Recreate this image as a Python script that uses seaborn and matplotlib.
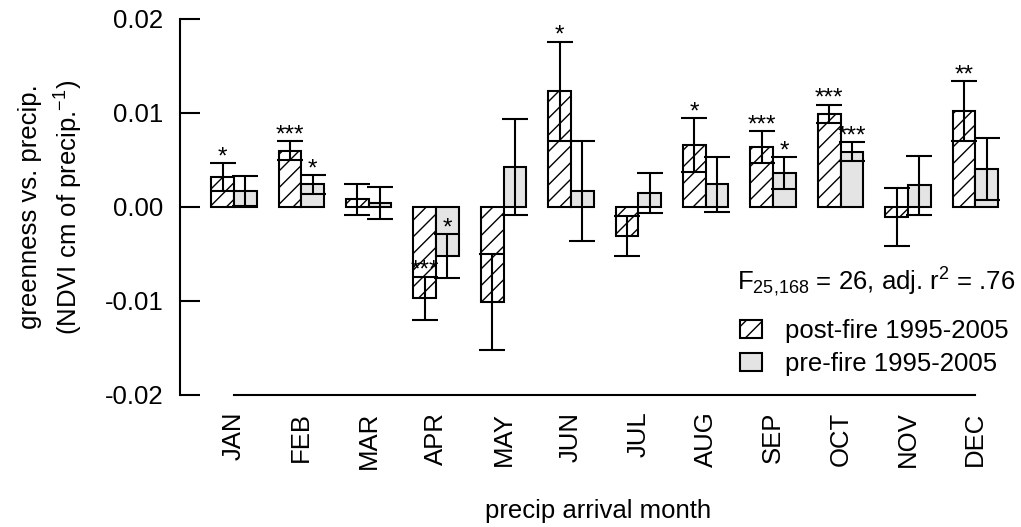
import numpy as np
import pandas as pd
import seaborn as sns
import matplotlib.pyplot as plt

sns.set_style('ticks')
plt.rcParams['font.family'] = ['Liberation Sans', 'DejaVu Sans']
plt.rcParams['mathtext.fontset'] = 'custom'
plt.rcParams['mathtext.rm'] = 'Liberation Sans'
plt.rcParams['mathtext.it'] = 'Liberation Sans:italic'
plt.rcParams['hatch.linewidth'] = 1.0
plt.rcParams['text.color'] = 'black'
plt.rcParams['axes.labelcolor'] = 'black'
plt.rcParams['xtick.color'] = 'black'
plt.rcParams['ytick.color'] = 'black'

# data
months = ['JAN', 'FEB', 'MAR', 'APR', 'MAY', 'JUN', 'JUL', 'AUG', 'SEP', 'OCT', 'NOV', 'DEC']
post_mean = [0.0032, 0.0060, 0.0008, -0.0097, -0.0101, 0.0123, -0.0031, 0.0066, 0.0064, 0.0099, -0.0011, 0.0102]
post_se = [0.0015, 0.0010, 0.0017, 0.0023, 0.0051, 0.0053, 0.0021, 0.0029, 0.0017, 0.0010, 0.0031, 0.0032]
pre_mean = [0.0017, 0.0024, 0.0004, -0.0052, 0.0043, 0.0017, 0.0015, 0.0024, 0.0036, 0.0059, 0.0023, 0.0040]
pre_se = [0.0016, 0.0010, 0.0017, 0.0023, 0.0051, 0.0053, 0.0021, 0.0029, 0.0017, 0.0010, 0.0031, 0.0033]
post_stars = ['*', '***', '', '***', '', '*', '', '*', '***', '***', '', '**']
pre_stars = ['', '*', '', '*', '', '', '', '', '*', '***', '', '']
periods = ['post-fire 1995-2005', 'pre-fire 1995-2005']

df = pd.DataFrame({
    'month': months * 2,
    'period': [periods[0]] * 12 + [periods[1]] * 12,
    'value': post_mean + pre_mean,
})

fig = plt.figure(figsize=(10.21, 5.27), dpi=100)
ax = fig.add_axes([180 / 1021, 1 - 395 / 527, 0.8186, (395 - 19) / 527])

sns.barplot(data=df, x='month', y='value', hue='period', order=months, hue_order=periods,
            palette={periods[0]: 'white', periods[1]: '#e4e4e4'}, width=0.674,
            errorbar=None, edgecolor='black', linewidth=1.5, ax=ax)

for p in ax.containers[0].patches:
    p.set_hatch('//')

# error bars and significance stars
for cont, means, ses, stars in [(ax.containers[0], post_mean, post_se, post_stars),
                                (ax.containers[1], pre_mean, pre_se, pre_stars)]:
    xs = [p.get_x() + p.get_width() / 2 for p in cont.patches]
    ax.errorbar(xs, means, yerr=ses, fmt='none', ecolor='black', elinewidth=1.5,
                capsize=9.5, capthick=1.5, zorder=5)
    for x, m, s, st in zip(xs, means, ses, stars):
        if st:
            ax.annotate(st, (x, m + s), xytext=(0, 4), textcoords='offset points',
                        ha='center', va='center', fontsize=17.5)

ax.set_xlim(-0.8, 11.6)
ax.set_ylim(-0.02, 0.02)
ax.set_yticks([-0.02, -0.01, 0.0, 0.01, 0.02])
ax.set_yticklabels(['-0.02', '-0.01', '0.00', '0.01', '0.02'])
sns.despine(ax=ax, top=True, right=True)
ax.spines['bottom'].set_bounds(0, 11)
ax.spines['left'].set_linewidth(1.5)
ax.spines['bottom'].set_linewidth(1.5)
ax.spines['left'].set_color('black')
ax.spines['bottom'].set_color('black')
ax.tick_params(axis='y', direction='in', length=14.4, width=1.5, pad=12, labelsize=18.5)
ax.tick_params(axis='x', length=0, pad=12, labelsize=18.5, labelrotation=90)

ax.set_xlabel('precip arrival month', fontsize=18.5, labelpad=22)
ax.set_ylabel('greenness vs. precip.\n(NDVI cm of precip.$^{-1}$)', fontsize=18.5,
              labelpad=14, linespacing=1.45)

ax.legend(handles=[ax.containers[0], ax.containers[1]], labels=periods, loc='upper left',
          bbox_to_anchor=(740 / 1021, 1 - 319 / 527), bbox_transform=fig.transFigure,
          frameon=False, fontsize=18.5, handlelength=0.85, handleheight=0.7,
          handletextpad=0.9, labelspacing=0.35, borderpad=0, borderaxespad=0)

fig.text(1015 / 1021, 1 - 290 / 527, 'F$_{25{,}168}$ = 26, adj. r$^{2}$ = .76',
         ha='right', va='baseline', fontsize=18.5)

fig.savefig('out.png', dpi=100)
